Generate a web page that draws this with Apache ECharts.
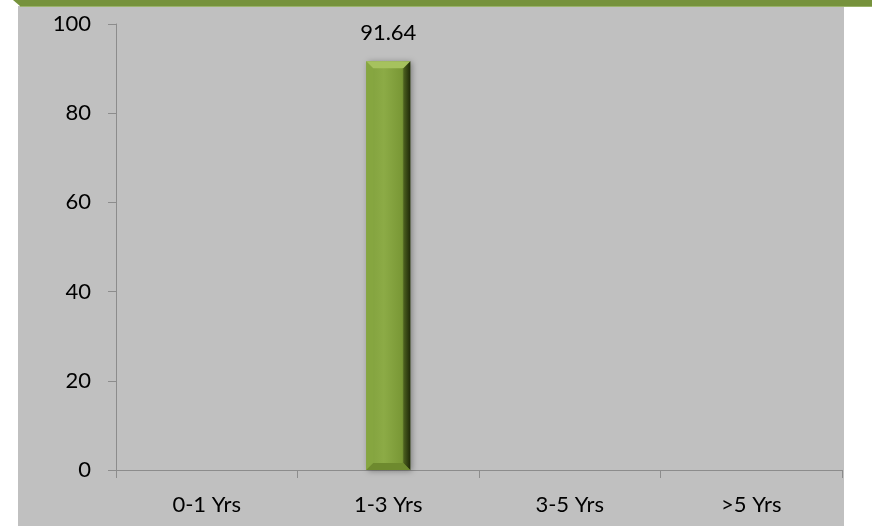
<!DOCTYPE html>
<html><head><meta charset="utf-8">
<script src="https://cdn.jsdelivr.net/npm/echarts@6/dist/echarts.min.js"></script>
<style>html,body{margin:0;padding:0;background:#fff}#c{width:872px;height:526px}</style>
</head><body><div id="c"></div>
<script>
const categories = ['0-1 Yrs', '1-3 Yrs', '3-5 Yrs', '>5 Yrs'];
const values = [null, 91.64, null, null];
const yTicks = [0, 20, 40, 60, 80, 100];

const chart = echarts.init(document.getElementById('c'));
const font = 'Lato, "Noto Sans", sans-serif';
const B = 7; // bevel size
function renderBevel(params, api) {
  const v = api.value(1);
  if (v == null || isNaN(v)) return null;
  const top = api.coord([api.value(0), v]);
  const base = api.coord([api.value(0), 0]);
  const w = 44;
  const x0 = top[0] - w / 2, x1 = top[0] + w / 2, y0 = top[1], y1 = base[1];
  return {
    type: 'group',
    children: [
      { type: 'rect', shape: { x: x0, y: y0, width: w, height: y1 - y0 },
        style: { fill: new echarts.graphic.LinearGradient(0, 0, 1, 0, [
          { offset: 0, color: '#80a03c' }, { offset: 0.4, color: '#8cab46' },
          { offset: 0.8, color: '#7a9836' }, { offset: 1, color: '#4e6220' }]),
          shadowColor: 'rgba(0,0,0,0.35)', shadowBlur: 6, shadowOffsetX: 2, shadowOffsetY: 1 } },
      { type: 'polygon', shape: { points: [[x0, y0], [x0 + B, y0 + B], [x0 + B, y1 - B], [x0, y1]] },
        style: { fill: '#86a640' } },
      { type: 'polygon', shape: { points: [[x1, y0], [x1 - B, y0 + B], [x1 - B, y1 - B], [x1, y1]] },
        style: { fill: new echarts.graphic.LinearGradient(0, 0, 1, 0, [
          { offset: 0, color: '#4f6420' }, { offset: 1, color: '#1f2908' }]) } },
      { type: 'polygon', shape: { points: [[x0, y0], [x1, y0], [x1 - B, y0 + B], [x0 + B, y0 + B]] },
        style: { fill: '#a6c25e' } },
      { type: 'polygon', shape: { points: [[x0, y1], [x1, y1], [x1 - B, y1 - B], [x0 + B, y1 - B]] },
        style: { fill: '#6e8a2e' } },
      { type: 'text', style: { x: top[0], y: y0 - 17, text: v.toFixed(2), align: 'center', verticalAlign: 'bottom',
        fill: '#000', font: '22px ' + font } }
    ]
  };
}
chart.setOption({
  animation: false,
  graphic: [
    { type: 'rect', z: -10, shape: { x: 18, y: 6, width: 826, height: 520 }, style: { fill: '#c0c0c0' } },
    { type: 'polygon', z: -9, shape: { points: [[13, 0], [872, 0], [872, 6], [20, 6]] }, style: { fill: '#76923c' } },
    { type: 'rect', z: -9, shape: { x: 20, y: 6, width: 852, height: 1 }, style: { fill: '#9ab36a' } }
  ],
  grid: { left: 116, right: 30, top: 24, bottom: 56 },
  xAxis: {
    type: 'category', data: categories,
    axisLine: { show: true, lineStyle: { color: '#8c8c8c', width: 1 } },
    axisTick: { show: true, alignWithLabel: false, length: 8, lineStyle: { color: '#8c8c8c' } },
    axisLabel: { color: '#000', fontSize: 22, fontFamily: font, margin: 24 }
  },
  yAxis: {
    type: 'value', min: 0, max: 100, interval: 20,
    axisLine: { show: true, lineStyle: { color: '#8c8c8c', width: 1 } },
    axisTick: { show: true, length: 8, lineStyle: { color: '#8c8c8c' } },
    splitLine: { show: false },
    axisLabel: { color: '#000', fontSize: 22, fontFamily: font, margin: 25,
      formatter: v => yTicks.includes(v) ? String(v) : '' }
  },
  series: [{
    type: 'custom', renderItem: renderBevel,
    data: values.map((v, i) => [i, v]),
    encode: { x: 0, y: 1 }
  }]
});
</script></body></html>
